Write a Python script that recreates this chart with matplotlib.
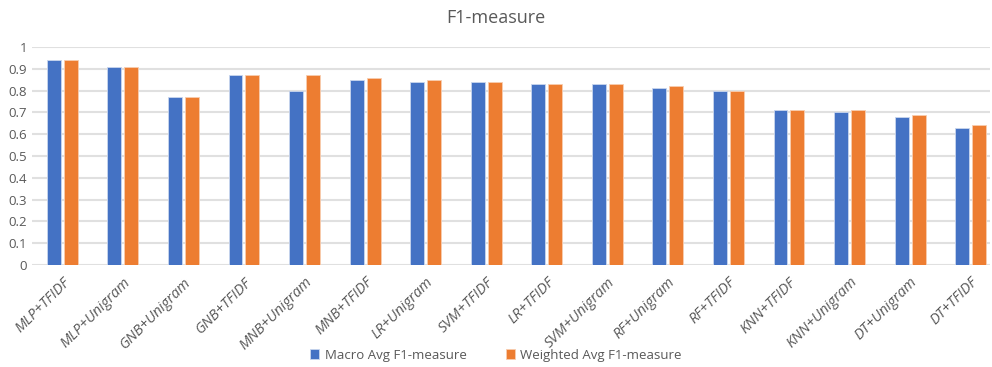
import matplotlib.pyplot as plt
import numpy as np

plt.rcParams['font.family'] = ['Open Sans', 'DejaVu Sans']

models = ['MLP+TFIDF', 'MLP+Unigram', 'GNB+Unigram', 'GNB+TFIDF', 'MNB+Unigram',
          'MNB+TFIDF', 'LR+Unigram', 'SVM+TFIDF', 'LR+TFIDF', 'SVM+Unigram',
          'RF+Unigram', 'RF+TFIDF', 'KNN+TFIDF', 'KNN+Unigram', 'DT+Unigram', 'DT+TFIDF']
macro_f1 = [0.94, 0.91, 0.77, 0.87, 0.80, 0.85, 0.84, 0.84, 0.83, 0.83, 0.81, 0.80, 0.71, 0.70, 0.68, 0.63]
weighted_f1 = [0.94, 0.91, 0.77, 0.87, 0.87, 0.86, 0.85, 0.84, 0.83, 0.83, 0.82, 0.80, 0.71, 0.71, 0.69, 0.64]

fig = plt.figure(figsize=(9.92, 3.67), dpi=100)
ax = fig.add_axes([32/992, 1 - 265/367, 958/992, 218/367])

x = np.arange(len(models))
w = 0.23
ax.bar(x - w/2 - 0.025, macro_f1, w, color='#4472C4', edgecolor='#C9D6EE', linewidth=0.6,
       label='Macro Avg F1-measure', zorder=3)
ax.bar(x + w/2 + 0.025, weighted_f1, w, color='#ED7D31', edgecolor='#F8CDB0', linewidth=0.6,
       label='Weighted Avg F1-measure', zorder=3)

ax.set_ylim(0, 1)
ax.set_xlim(-0.5, 15.32)
ax.set_yticks(np.arange(0, 1.01, 0.1))
ax.set_yticklabels(['0', '0.1', '0.2', '0.3', '0.4', '0.5', '0.6', '0.7', '0.8', '0.9', '1'])
ax.yaxis.grid(True, color='#E0E0E0', linewidth=1.5, zorder=0)
ax.set_xticks(x)
ax.set_xticklabels(models, rotation=45, ha='right', rotation_mode='anchor', style='italic',
                   fontsize=10.5)
ax.tick_params(axis='both', length=0, colors='#595959')
ax.tick_params(axis='y', labelsize=9.5)
ax.tick_params(axis='x', pad=7)
for s in ax.spines.values():
    s.set_visible(False)

fig.text(0.5, 1 - 18/367, 'F1-measure', ha='center', va='center', fontsize=13, color='#595959')
fig.legend(loc='center', bbox_to_anchor=(0.5, 1 - 355/367), ncol=2, frameon=False,
           fontsize=9.5, labelcolor='#595959', handlelength=0.7, handleheight=0.7,
           columnspacing=3, handletextpad=0.4)

fig.savefig('out.png', dpi=100)
